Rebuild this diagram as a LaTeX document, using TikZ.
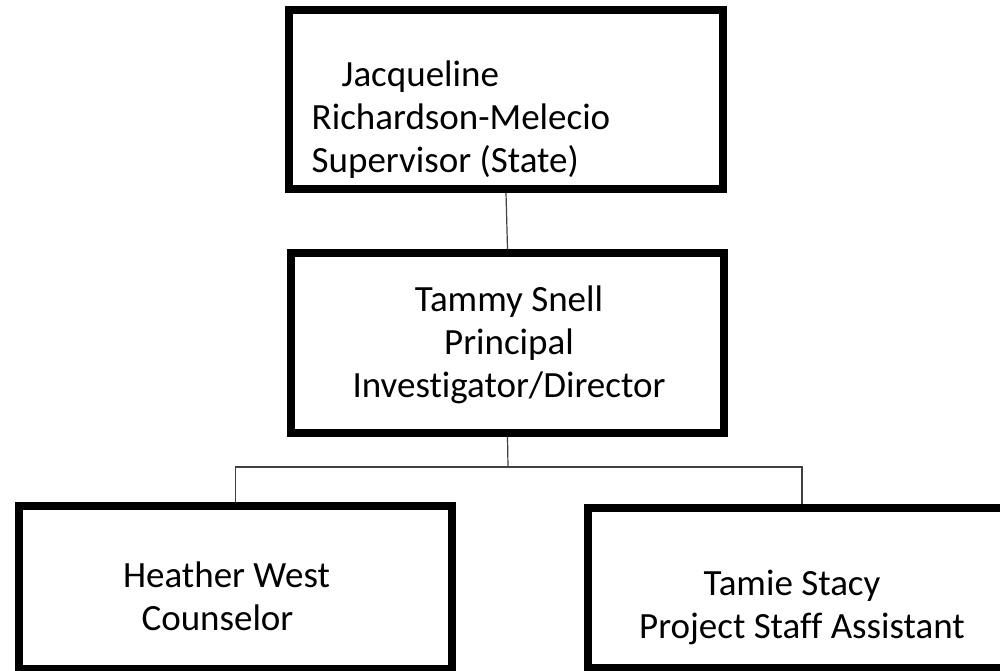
\documentclass[tikz,border=0pt]{standalone}
\usepackage{fontspec}
\setmainfont[Ligatures=NoCommon]{Carlito}
\usepackage{tikz}
\usetikzlibrary{positioning}
\tikzset{
  orgbox/.style={rectangle, draw=black, line width=8pt, fill=white, inner sep=0pt},
  orgtext/.style={font=\fontsize{37}{43}\selectfont, inner sep=0pt},
  link/.style={draw=black!75, line width=1.2pt},
}

\begin{document}
\begin{tikzpicture}[x=1pt, y=-1pt]
\clip (0,0) rectangle (1000,671);
%Nodes
\node[orgbox, minimum width=434pt, minimum height=179pt] (boss) at (506,99.5) {};
\node[orgbox, minimum width=433pt, minimum height=180pt] (director) at (507.5,343) {};
\node[orgbox, minimum width=433pt, minimum height=163pt] (counselor) at (235.5,587) {};
\node[orgbox, minimum width=428pt, minimum height=160pt] (assistant) at (802,588) {};

\node[orgtext, align=left] (bosstext) at (461,120) {\hspace*{30pt}Jacqueline\\Richardson-Melecio\\Supervisor (State)};
\node[orgtext, align=center] (directortext) at (509,345) {Tammy Snell\\Principal\\Investigator/Director};
\node[orgtext, align=center] (counselortext) at (226.5,596) {Heather West\\Counselor\hspace*{18pt}};
\node[orgtext, align=center] (assistanttext) at (802,607) {Tamie Stacy\hspace*{20pt}\\Project Staff Assistant};

%Lines
\coordinate (split) at (508,467);
\draw[link] (boss.south) -- (director.north);
\draw[link] (director.south) -- (split);
\draw[link] (counselor.north) |- (split) -| (assistant.north);
\end{tikzpicture}
\end{document}
